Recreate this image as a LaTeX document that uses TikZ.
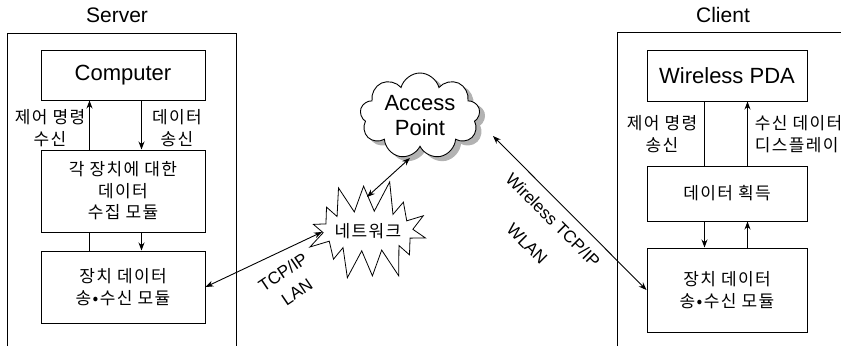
\documentclass[tikz,border=0pt]{standalone}
\usepackage{fontspec}
\setmainfont{Liberation Sans}
\newfontfamily\krfont[LetterSpace=8]{Noto Sans CJK KR}
\usetikzlibrary{arrows.meta,shapes.symbols,calc}
\begin{document}
\begin{tikzpicture}[x=1pt,y=-1pt,line width=0.9pt,
  box/.style={draw,line width=1pt,inner sep=0pt,align=center},
  sbox/.style={box,minimum width=164pt},
  cbox/.style={box,minimum width=160pt},
  en/.style={font=\fontsize{22}{25}\selectfont},
  ttl/.style={font=\fontsize{21}{22}\selectfont},
  ko/.style={font=\krfont\fontsize{17}{21.5}\selectfont,align=center},
  lbl/.style={font=\fontsize{17}{19}\selectfont},
  tipa/.style={-{Stealth[length=8pt,width=6pt]}},
  dbl/.style={{Stealth[length=8pt,width=6pt]}-{Stealth[length=8pt,width=6pt]}}]
\clip (0,0) rectangle (841,346);
\useasboundingbox (0,0) rectangle (841,346);
% frames
\coordinate (sfa) at (7,346);
\coordinate (sfb) at (7,33);
\coordinate (sfc) at (236,33);
\coordinate (sfd) at (236,346);
\draw (sfa) -- (sfb) -- (sfc) -- (sfd);
\coordinate (cfa) at (617,346);
\coordinate (cfb) at (617,32);
\coordinate (cfc) at (845,32);
\draw (cfa) -- (cfb) -- (cfc);
\node[ttl] (tserver) at (117,15) {Server};
\node[ttl] (tclient) at (723,15) {Client};
% server boxes
\node[sbox,minimum height=50pt,en] (comp) at (123,75) {Computer};
\node[sbox,minimum height=82pt,ko] (s2) at (123,191) {각 장치에 대한\\데이터\\수집 모듈};
\node[sbox,minimum height=72pt,ko] (s3) at (123,287) {장치 데이터\\송•수신 모듈};
\draw[tipa] ($(s2.north west)+(49,0)$) -- ($(comp.south west)+(49,0)$);
\draw[tipa] ($(comp.south west)+(101,0)$) -- ($(s2.north west)+(101,0)$);
\draw ($(s2.south west)+(49,0)$) -- ($(s3.north west)+(49,0)$);
\draw[tipa] ($(s2.south west)+(101,0)$) -- ($(s3.north west)+(101,0)$);
\node[ko] (l1) at (50,128) {제어 명령\\수신};
\node[ko] (l2) at (177,128) {데이터\\송신};
% client boxes
\node[cbox,minimum height=51pt,en] (pda) at (727,75.5) {Wireless PDA};
\node[cbox,minimum height=55pt,ko] (c2) at (727,193.5) {데이터 획득};
\node[cbox,minimum height=84pt,ko] (c3) at (727,290) {장치 데이터\\송•수신 모듈};
\draw ($(pda.south west)+(58,0)$) -- ($(c2.north west)+(58,0)$);
\draw[tipa] ($(c2.north west)+(101,0)$) -- ($(pda.south west)+(101,0)$);
\draw[tipa] ($(c2.south west)+(58,0)$) -- ($(c3.north west)+(58,0)$);
\draw[tipa] ($(c3.north west)+(101,0)$) -- ($(c2.south west)+(101,0)$);
\node[ko] (l3) at (662,134) {제어 명령\\송신};
\node[ko,anchor=west,align=left] (l4) at (751,134) {수신 데이터\\디스플레이};
% cloud
\node[cloud,cloud puffs=9,cloud ignores aspect,minimum width=120pt,minimum height=86pt,fill=gray!60,draw=gray!60,inner sep=0pt] (apshadow) at (425,120) {};
\node[cloud,cloud puffs=9,cloud ignores aspect,minimum width=120pt,minimum height=86pt,draw,fill=white,inner sep=0pt] (ap) at (420,116) {};
\node[en,align=center] (aptext) at (ap.center) {Access\\Point};
% starburst
\node[inner sep=0pt] (net) at (368,231) {};
\draw[fill=white,line width=0.8pt] ($(net.center)+({58*cos(8)},{50*sin(8)})$)
  \foreach \i/\f in {0/1,1/.86,2/1.04,3/.9,4/1,5/.82,6/1.05,7/.95,8/.86,9/1,10/.9,11/1.05,12/.84,13/1}
  { -- ($(net.center)+({\f*58*cos(\i*360/14+8)},{\f*50*sin(\i*360/14+8)})$)
    -- ($(net.center)+({45*cos(\i*360/14+8+360/28)},{20*sin(\i*360/14+8+360/28)})$) } -- cycle;
\node[ko,inner sep=0pt] (nettext) at (net.center) {네트워크};
% connectors
\draw[dbl] ($(ap.center)+(-10,42)$) -- ($(net.center)+(-1,-34)$);
\draw[dbl] (s3.east) -- ($(net.center)+(-46,1)$);
\draw[dbl] ($(ap.center)+(73,20)$) -- (c3.west);
\node[lbl,rotate=34] (tcp) at (283,272) {TCP/IP};
\node[lbl,rotate=34] (lan) at (297,292) {LAN};
\node[lbl,rotate=-45] (wtcp) at (553,220) {Wireless TCP/IP};
\node[lbl,rotate=-45] (wlan) at (527,244) {WLAN};
\end{tikzpicture}
\end{document}
